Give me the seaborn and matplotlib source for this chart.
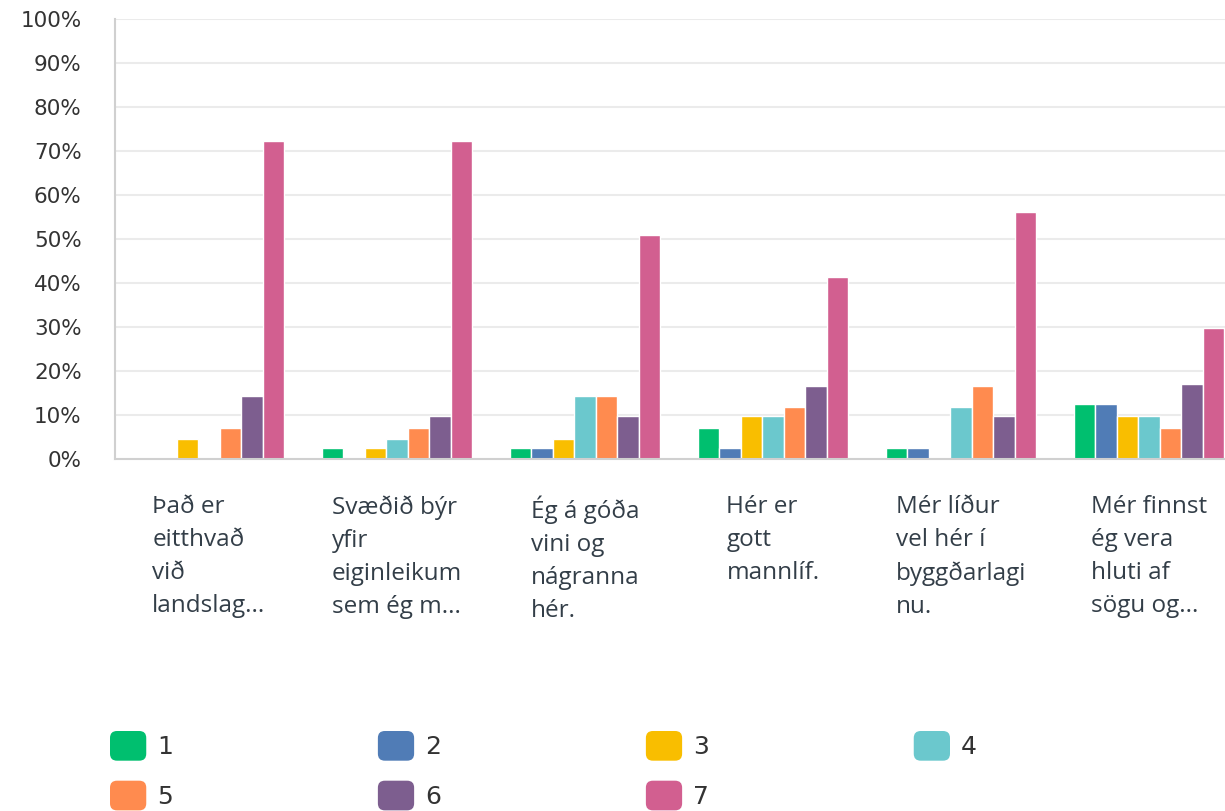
import numpy as np
import pandas as pd
import matplotlib
matplotlib.use("Agg")
import matplotlib.pyplot as plt
from matplotlib.patches import FancyBboxPatch, Patch
from matplotlib.legend_handler import HandlerPatch
from matplotlib.ticker import FuncFormatter
import seaborn as sns

statements = [
    "Það er\neitthvað\nvið\nlandslag...",
    "Svæðið býr\nyfir\neiginleikum\nsem ég m...",
    "Ég á góða\nvini og\nnágranna\nhér.",
    "Hér er\ngott\nmannlíf.",
    "Mér líður\nvel hér í\nbyggðarlagi\nnu.",
    "Mér finnst\nég vera\nhluti af\nsögu og...",
]
ratings = ["1", "2", "3", "4", "5", "6", "7"]

# percent per rating, one list per statement
s1 = [0.0, 0.0, 4.5, 0.0, 7.1, 14.4, 72.3]
s2 = [2.4, 0.0, 2.4, 4.5, 7.1, 9.7, 72.3]
s3 = [2.4, 2.4, 4.5, 14.4, 14.4, 9.7, 50.9]
s4 = [7.1, 2.4, 9.7, 9.7, 11.9, 16.6, 41.4]
s5 = [2.4, 2.4, 0.0, 11.9, 16.6, 9.7, 56.1]
s6 = [12.4, 12.4, 9.7, 9.7, 7.1, 17.0, 29.8]

colors = ["#00BF6F", "#507CB6", "#F9BE00", "#6BC8CD", "#FF8B4F", "#7D5E8F", "#D25F90"]

rows = []
for stmt, vals in zip(statements, [s1, s2, s3, s4, s5, s6]):
    for r, v in zip(ratings, vals):
        rows.append({"statement": stmt, "rating": r, "value": v})
df = pd.DataFrame(rows)

sns.set_style("white")
plt.rcParams["font.family"] = ["DejaVu Sans"]

fig = plt.figure(figsize=(12.25, 8.11), dpi=100)
ax = fig.add_axes([115 / 1225, 1 - 459 / 811, 1128 / 1225, 440 / 811])

sns.barplot(data=df, x="statement", y="value", hue="rating", hue_order=ratings,
            palette=colors, saturation=1, edgecolor="white", linewidth=1, width=0.8,
            order=statements, ax=ax)

ax.set_ylim(0, 100)
ax.set_xlim(-0.5, 5.5)
ax.set_yticks(np.arange(0, 101, 10))
ax.yaxis.set_major_formatter(FuncFormatter(lambda v, p: f"{int(v)}%"))
ax.yaxis.grid(True, color="#ebebeb", linewidth=1.5)
ax.set_axisbelow(True)
ax.set_xlabel("")
ax.set_ylabel("")

for side in ["top", "right"]:
    ax.spines[side].set_visible(False)
for side in ["left", "bottom"]:
    ax.spines[side].set_color("#d0d0d0")
    ax.spines[side].set_linewidth(1.5)

ax.tick_params(axis="y", length=0, pad=24, labelsize=15.5, labelcolor="#333333")
ax.tick_params(axis="x", length=0, pad=26, labelsize=17.5, labelcolor="#333e48")
for lbl in ax.get_xticklabels():
    lbl.set_fontfamily(["Open Sans", "DejaVu Sans"])
    lbl.set_multialignment("left")
    lbl.set_linespacing(1.5)
    lbl.set_verticalalignment("top")


class RoundHandler(HandlerPatch):
    def create_artists(self, legend, orig_handle, xdescent, ydescent, width, height, fontsize, trans):
        p = FancyBboxPatch((-xdescent, -ydescent), width, height,
                           boxstyle="round,pad=0,rounding_size=5",
                           facecolor=orig_handle.get_facecolor(), edgecolor="none",
                           transform=trans)
        return [p]


ax.get_legend().remove()
handles = [Patch(facecolor=c, label=r) for c, r in zip(colors, ratings)]
# matplotlib fills legend columns first, reorder so rows read 1-4 / 5-7
idx = [0, 4, 1, 5, 2, 6, 3]
leg = fig.legend([handles[i] for i in idx], [ratings[i] for i in idx],
                 ncol=4, loc="upper left", bbox_to_anchor=(110 / 1225, 1 - 731 / 811),
                 frameon=False, fontsize=18, handlelength=1.45, handleheight=1.45,
                 handletextpad=0.45, columnspacing=8.18, labelspacing=0.8,
                 borderpad=0, borderaxespad=0,
                 handler_map={Patch: RoundHandler()})
for t in leg.get_texts():
    t.set_color("#333333")

fig.savefig("out.png", dpi=100)
